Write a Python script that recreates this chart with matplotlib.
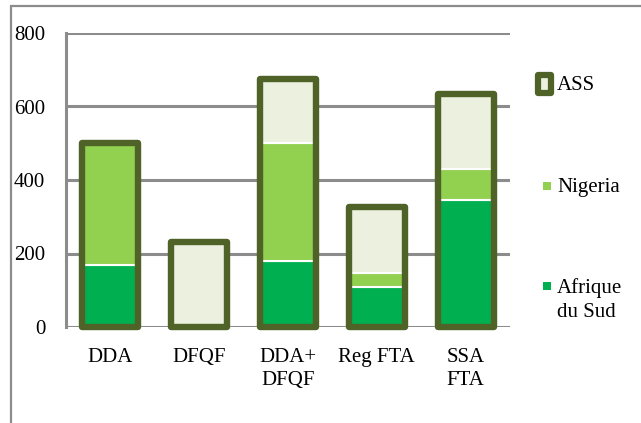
import matplotlib
matplotlib.use("Agg")
import matplotlib.pyplot as plt
from matplotlib.patches import Rectangle
import numpy as np

categories = ["DDA", "DFQF", "DDA+\nDFQF", "Reg FTA", "SSA\nFTA"]
afrique_du_sud = [170, 3, 180, 110, 345]
nigeria = [330, 0, 320, 37, 85]
ass_total = [500, 230, 675, 327, 635]
y_ticks = [0, 200, 400, 600, 800]

c_sa = "#00B050"
c_ng = "#92D050"
c_rest = "#EBF0DF"
c_edge = "#4F6228"
c_grid = "#8C8C8C"

plt.rcParams["font.family"] = ["Liberation Serif", "DejaVu Serif"]
fs = 15

fig = plt.figure(figsize=(6.41, 4.23), dpi=100)
W, H = 641, 423

# outer chart frame
fig.patches.append(Rectangle((11 / W, -0.1), 1.2, 1 - 6 / H + 0.1,
                             transform=fig.transFigure, fill=False,
                             edgecolor=c_grid, linewidth=1.6))

ax = fig.add_axes([66 / W, 1 - 327 / H, (510 - 66) / W, (327 - 33) / H])
x = np.arange(len(categories))
bw = 0.63

sa = np.array(afrique_du_sud, float)
ng = np.array(nigeria, float)
tot = np.array(ass_total, float)
rest = tot - sa - ng

ax.bar(x, sa, bw, color=c_sa, edgecolor="white", linewidth=1.5, zorder=3)
ax.bar(x, ng, bw, bottom=sa, color=c_ng, edgecolor="white", linewidth=1.5, zorder=3)
ax.bar(x, rest, bw, bottom=sa + ng, color=c_rest, edgecolor="white", linewidth=1.5, zorder=3)
ax.bar(x, tot, bw, facecolor="none", edgecolor=c_edge, linewidth=4.6,
       joinstyle="round", zorder=4, clip_on=False)

ax.set_xlim(-0.5, len(categories) - 0.5)
ax.set_ylim(0, 800)
ax.set_yticks(y_ticks)
ax.set_yticklabels([str(v) for v in y_ticks], fontsize=fs)
ax.set_xticks(x)
ax.set_xticklabels(categories, fontsize=fs, linespacing=1.33, va="top")
ax.tick_params(axis="both", length=0)
ax.tick_params(axis="y", pad=15)
ax.tick_params(axis="x", pad=15)
ax.yaxis.grid(True, color=c_grid, linewidth=2.2, zorder=0)
ax.set_axisbelow(True)
for s in ["top", "right", "bottom"]:
    ax.spines[s].set_visible(False)
ax.spines["left"].set_color(c_grid)
ax.spines["left"].set_linewidth(2.2)

# legend
def fx(px):
    return px / W

def fy(py):
    return 1 - py / H

fig.patches.append(Rectangle((fx(538), fy(93.2)), 12.8 / W, 18.4 / H,
                             transform=fig.transFigure, facecolor=c_rest,
                             edgecolor=c_edge, linewidth=4.5, joinstyle="round"))
fig.text(fx(557), fy(86), "ASS", fontsize=fs, va="center", ha="left")

fig.patches.append(Rectangle((fx(543), fy(190)), 8 / W, 8 / H,
                             transform=fig.transFigure, facecolor=c_ng,
                             edgecolor="none"))
fig.text(fx(557), fy(187), "Nigeria", fontsize=fs, va="center", ha="left")

fig.patches.append(Rectangle((fx(543), fy(290)), 8 / W, 8 / H,
                             transform=fig.transFigure, facecolor=c_sa,
                             edgecolor="none"))
fig.text(fx(557), fy(278), "Afrique\ndu Sud", fontsize=fs, va="top",
         ha="left", linespacing=1.33)

fig.savefig("out.png", dpi=100)
